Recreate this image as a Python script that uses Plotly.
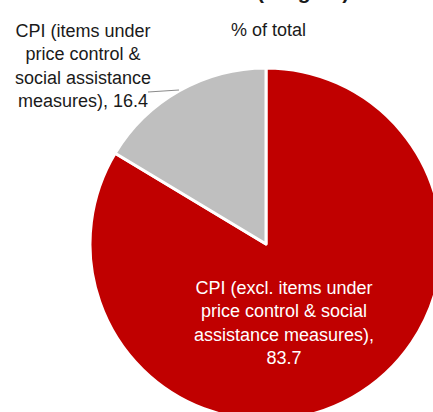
import textwrap
import plotly.graph_objects as go

# data
labels = ["CPI (excl. items under price control & social assistance measures)",
          "CPI (items under price control & social assistance measures)"]
values = [83.7, 16.4]
colors = ["#C00000", "#BFBFBF"]

W, H = 450, 430  # a bit larger than the window: the pie runs off the bottom/right edge


def px_x(x):
    return x / W


def px_y(y):
    return 1 - y / H


fig = go.Figure(go.Pie(
    labels=labels, values=values, sort=False,
    direction="clockwise", rotation=0,
    marker=dict(colors=colors, line=dict(color="white", width=3)),
    textinfo="none", hoverinfo="label+value", showlegend=False,
    domain=dict(x=[px_x(90), px_x(442)], y=[px_y(420), px_y(68)]),
))

font = "Liberation Sans, Arial, sans-serif"


def note(text, x, y, size=18, color="#1a1a1a", **kw):
    fig.add_annotation(text=text, x=px_x(x), y=px_y(y), xref="paper", yref="paper",
                       xanchor=kw.pop("xanchor", "center"), yanchor=kw.pop("yanchor", "middle"),
                       showarrow=False, align="center",
                       font=dict(family=font, size=size, color=color), **kw)


# red slice label (inside, white)
note("<br>".join(textwrap.wrap(f"{labels[0]}, {values[0]}", 24)), 284, 323, color="white")

# grey slice label (outside, with leader line)
note("<br>".join(textwrap.wrap(f"{labels[1]}, {values[1]}", 17)), 83, 66)
fig.add_shape(type="line", xref="paper", yref="paper",
              x0=px_x(148), y0=px_y(92), x1=px_x(179), y1=px_y(90),
              line=dict(color="#8c8c8c", width=1.2))

note("% of total", 268, 30)

# chart title, mostly above the visible area
note("<b>(weights)</b>", 303, 5, size=21, yanchor="bottom")

fig.update_layout(width=W, height=H, margin=dict(l=0, r=0, t=0, b=0),
                  paper_bgcolor="white", plot_bgcolor="white")

fig.write_html("out.html", config={"displayModeBar": False},
               post_script="document.body.style.margin='0';document.body.style.overflow='hidden';")
